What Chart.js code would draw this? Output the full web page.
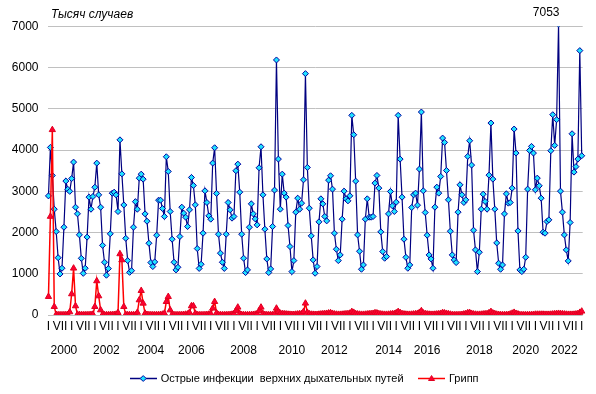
<!DOCTYPE html>
<html lang="ru">
<head>
<meta charset="utf-8">
<title>ОРВИ и грипп, 2000–2023</title>
<script src="https://cdn.jsdelivr.net/npm/chart.js@4.4.1/dist/chart.umd.min.js"></script>
<style>
  html, body { margin: 0; padding: 0; background: #fff; }
</style>
</head>
<body>
<canvas id="chart" width="596" height="394"></canvas>
<script>
'use strict';

// ── DATA (thousand cases per month, Jan 2000 – Jan 2023) ──────────
const FIRST_YEAR = 2000;

const ariValues = [
  2890, 4065, 3385, 2567, 2025, 1390,  995, 1135, 2130, 3250, 3050, 3000, // 2000
  3310, 3710, 2615, 2455, 1945, 1375, 1010, 1135, 1890, 2860, 2567, 2875, // 2001
  3100, 3685, 2915, 2615, 1690, 1280,  965, 1125, 1970, 2955, 2980, 2915, // 2002
  2510, 4250, 3425, 2670, 1860, 1320, 1035, 1075, 2130, 2750, 2567, 3320, // 2003
  3417, 3296, 2454, 2276, 1741, 1272, 1175, 1288, 1936, 2786, 2786, 2584, // 2004
  2390, 3839, 3483, 2511, 1839, 1280, 1094, 1158, 1904, 2616, 2470, 2373, // 2005
  2147, 2552, 3337, 3143, 2673, 1612, 1130, 1231, 1985, 3013, 2730, 2406, // 2006
  2325, 3686, 4058, 2950, 1960, 1500, 1280, 1130, 1960, 2730, 2552, 2350, // 2007
  2390, 3500, 3660, 2980, 1960, 1377, 1029, 1094, 2130, 2697, 2454, 2333, // 2008
  2187, 3572, 4082, 2916, 2082, 1361, 1029, 1118, 2147, 3030, 6188, 3783, // 2009
  2568, 3418, 2957, 2860, 2171, 1661, 1053, 1320, 2495, 2835, 2568, 2714, // 2010
  3280, 5856, 3580, 2592, 1920, 1337, 1013, 1175, 2260, 2819, 2697, 2390, // 2011
  2284, 3272, 3378, 3054, 1985, 1596, 1320, 1458, 2325, 3005, 2819, 2770, // 2012
  2892, 4844, 4374, 3248, 1944, 1547, 1110, 1215, 2325, 2819, 2373, 2373, // 2013
  2390, 3200, 3386, 3078, 2017, 1539, 1377, 1418, 2454, 2997, 2649, 2511, // 2014
  2738, 4844, 3783, 2859, 1839, 1400, 1134, 1215, 2608, 2916, 2957, 2665, // 2015
  3540, 4925, 3013, 2487, 1936, 1458, 1361, 1134, 2616, 3102, 2957, 3362, // 2016
  4293, 4188, 3507, 2795, 2033, 1458, 1337, 1272, 2495, 3159, 2916, 2730, // 2017
  2795, 3848, 4228, 3637, 2057, 1580, 1053, 1523, 2568, 2932, 2754, 2568, // 2018
  3394, 4658, 3297, 2568, 1750, 1256, 1110, 1215, 2454, 2940, 2714, 2730, // 2019
  3078, 4512, 3929, 2041, 1094, 1053, 1110, 1401, 3054, 3993, 4091, 3929, // 2020
  3038, 3321, 3135, 2835, 2009, 1985, 2268, 2309, 3985, 4860, 4115, 4739, // 2021
  7053, 3005, 2495, 1944, 1580, 1312, 2244, 4398, 3467, 3600, 3783, 6415, // 2022
  3864                                                                    // 2023
];

const fluValues = [
   445, 2390, 4494,  202,   10,    3,    2,    2,    3,    5,   10,   73, // 2000
   510, 1134,  219,   15,    5,    3,    2,    2,    3,    5,    8,   15, // 2001
   202,  826,  461,  121,   10,    3,    2,    2,    3,    5,    8,   15, // 2002
    56, 1482, 1336,  202,   10,    3,    2,    2,    3,    5,   60,  364, // 2003
   590,  283,   40,   10,    5,    3,    2,    2,    3,    5,    8,   15, // 2004
    40,  323,  445,  120,   10,    3,    2,    2,    3,    5,    8,   15, // 2005
    20,   60,  219,  219,   40,    5,    2,    2,    3,    5,    8,   15, // 2006
    30,  162,  323,   50,   10,    3,    2,    2,    3,    5,    8,   15, // 2007
    30,  100,  187,   30,    8,    3,    2,    2,    3,    5,    8,   15, // 2008
    30,  100,  187,   30,    8,    3,    2,    2,    5,   20,  162,   80, // 2009
    40,   30,   25,   20,   15,   12,   10,   10,   15,   20,   25,   30, // 2010
    80,  284,   60,   25,   15,   12,   10,   10,   15,   20,   25,   30, // 2011
    35,   45,   50,   35,   20,   15,   12,   12,   15,   20,   25,   30, // 2012
    40,   80,   60,   30,   20,   15,   12,   12,   15,   20,   25,   30, // 2013
    35,   50,   45,   30,   20,   15,   12,   12,   15,   20,   25,   30, // 2014
    50,   80,   55,   30,   20,   15,   12,   12,   15,   20,   25,   35, // 2015
    60,  100,   45,   30,   20,   15,   12,   12,   15,   20,   25,   35, // 2016
    55,   45,   35,   25,   15,    5,    3,    3,    4,    6,   10,   20, // 2017
    30,   50,   55,   35,   20,   15,   12,   12,   15,   20,   25,   30, // 2018
    50,   80,   45,   30,   15,   10,    5,    3,    4,    5,    8,   20, // 2019
    40,   60,   35,   20,    5,    3,    2,    2,    3,    4,    6,   10, // 2020
    15,   15,   15,   15,   15,   12,   12,   12,   15,   20,   25,   30, // 2021
    35,   30,   25,   20,   15,   12,   12,   12,   15,   20,   30,   60, // 2022
    90                                                                    // 2023
];

const seriesNames = ['Острые инфекции  верхних дыхательных путей', 'Грипп'];
const monthTickLabels = ['I', 'VII'];          // January, July
const yearLabels = ['2000', '2002', '2004', '2006', '2008', '2010',
                    '2012', '2014', '2016', '2018', '2020', '2022'];
const unitsTitle = 'Тысяч случаев';

const categories = ariValues.map((_, i) =>
  `${FIRST_YEAR + Math.floor(i / 12)}-${String(i % 12 + 1).padStart(2, '0')}`);

// ── LAYOUT ────────────────────────────────────────────────────────
// month index under which each year caption sits (hand placed, as in the source)
const YEAR_LABEL_AT = [8, 30, 53, 74, 101, 126, 148, 176, 196, 223, 247, 267];
const LEGEND_SHIFT = 27;
const FONT = 'Arial, "Liberation Sans", sans-serif';

Chart.defaults.font.family = FONT;
Chart.defaults.font.size = 12;
Chart.defaults.color = '#000';

// legend swatch: short line with the marker in the middle (Excel style)
function legendIcon(lineColor, fill, stroke, shape) {
  const c = document.createElement('canvas');
  c.width = 27; c.height = 9;
  const g = c.getContext('2d');
  g.strokeStyle = lineColor; g.lineWidth = 1.5;
  g.beginPath(); g.moveTo(0, 4.5); g.lineTo(27, 4.5); g.stroke();
  g.beginPath();
  if (shape === 'diamond') {
    g.moveTo(13.5, 1.5); g.lineTo(16.5, 4.5); g.lineTo(13.5, 7.5); g.lineTo(10.5, 4.5);
  } else {
    g.moveTo(13.5, 1.5); g.lineTo(16.5, 6.5); g.lineTo(10.5, 6.5);
  }
  g.closePath();
  g.fillStyle = fill; g.fill();
  g.strokeStyle = stroke; g.lineWidth = 1; g.stroke();
  return c;
}
const legendIcons = [
  legendIcon('#000080', '#1fe3ff', '#0000a0', 'diamond'),
  legendIcon('#ff0000', '#ff0030', '#e00020', 'triangle')
];

// background, units caption, peak value, legend nudge
const textPlugin = {
  id: 'textLabels',
  afterLayout(chart) {
    if (chart.legend) chart.legend.left += LEGEND_SHIFT;
  },
  beforeDraw(chart) {
    const ctx = chart.ctx;
    ctx.save();
    ctx.fillStyle = '#fff';
    ctx.fillRect(0, 0, chart.width, chart.height);
    ctx.restore();
  },
  afterDraw(chart) {
    const ctx = chart.ctx;
    ctx.save();
    ctx.fillStyle = '#000';
    ctx.textBaseline = 'middle';
    ctx.font = `italic 12px ${FONT}`;
    ctx.textAlign = 'left';
    ctx.fillText(unitsTitle, 51, 15);

    const peak = ariValues.indexOf(Math.max(...ariValues));
    ctx.font = `12px ${FONT}`;
    ctx.textAlign = 'right';
    ctx.fillText(String(ariValues[peak]), chart.scales.x.getPixelForValue(peak) + 1, 13);
    ctx.restore();
  }
};

new Chart(document.getElementById('chart'), {
  type: 'line',
  data: {
    labels: categories,
    datasets: [
      {
        label: seriesNames[0],
        data: ariValues,
        borderColor: '#000080',
        borderWidth: 1.2,
        pointStyle: 'rectRot',
        pointRadius: 3,
        pointBackgroundColor: '#1fe3ff',
        pointBorderColor: '#0000a0',
        pointBorderWidth: 1,
        order: 2,
        clip: { left: 8, right: 8, top: 0, bottom: 8 }
      },
      {
        label: seriesNames[1],
        data: fluValues,
        borderColor: '#ff0000',
        borderWidth: 1.5,
        pointStyle: 'triangle',
        pointRadius: 3.6,
        pointBackgroundColor: '#ff0030',
        pointBorderColor: '#e00020',
        pointBorderWidth: 1,
        order: 1
      }
    ]
  },
  options: {
    responsive: false,
    animation: false,
    devicePixelRatio: 1,
    layout: { padding: { left: 0, right: 13.3, top: 26.5, bottom: 0 } },
    plugins: {
      tooltip: { enabled: false },
      legend: {
        position: 'bottom',
        labels: {
          usePointStyle: true,
          pointStyleWidth: 24,
          padding: 16,
          color: '#000',
          font: { size: 11 },
          sort: (a, b) => a.datasetIndex - b.datasetIndex,
          generateLabels(chart) {
            const items = Chart.defaults.plugins.legend.labels.generateLabels(chart);
            items.forEach(it => { it.pointStyle = legendIcons[it.datasetIndex]; });
            return items;
          }
        }
      }
    },
    scales: {
      x: {
        offset: true,
        grid: { display: false, drawTicks: false },
        border: { display: false },
        ticks: {
          autoSkip: false,
          maxRotation: 0,
          minRotation: 0,
          padding: 0,
          color: '#000',
          font: { size: 12, lineHeight: 2 },
          callback(value, index) {
            const m = index % 12;
            const roman = m === 0 ? monthTickLabels[0] : (m === 6 ? monthTickLabels[1] : '');
            const y = YEAR_LABEL_AT.indexOf(index);
            return [roman, y >= 0 ? yearLabels[y] : ''];
          }
        },
        afterFit(scale) { scale.height = 42; }
      },
      y: {
        min: 0,
        max: 7000,
        ticks: {
          stepSize: 1000,
          padding: 9,
          color: '#000',
          font: { size: 12 },
          callback: value => String(value)
        },
        grid: { color: '#c0c0c0', drawTicks: false },
        border: { display: false },
        afterFit(scale) { scale.width = 47.5; }
      }
    }
  },
  plugins: [textPlugin]
});
</script>
</body>
</html>
